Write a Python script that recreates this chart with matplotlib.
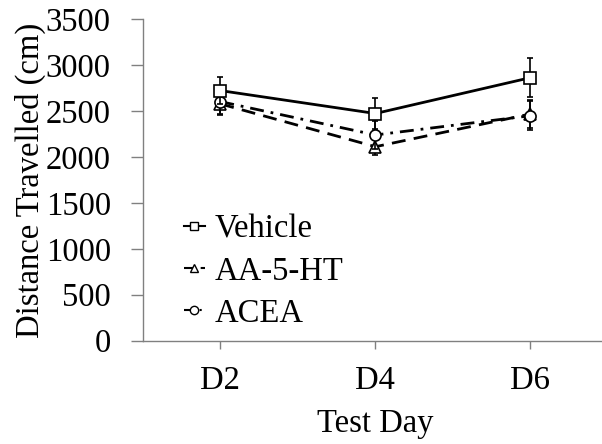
import matplotlib
matplotlib.use("Agg")
import matplotlib.pyplot as plt
from matplotlib.lines import Line2D

plt.rcParams['font.family'] = ['Liberation Serif', 'DejaVu Serif']

days = ["D2", "D4", "D6"]
vehicle = [2725, 2475, 2866]
vehicle_err = [150, 165, 210]
aa5ht = [2580, 2113, 2470]
aa5ht_err = [120, 85, 150]
acea = [2605, 2241, 2451]
acea_err = [135, 150, 155]

FS = 23.5
fig = plt.figure(figsize=(6.02, 4.44), dpi=100)
ax = fig.add_axes([142.8 / 602, 1 - 340.5 / 444, (608 - 142.8) / 602, (340.5 - 19.5) / 444])

x = [0.5, 1.5, 2.5]
styles = {
    'Vehicle': dict(marker='s', ls='-'),
    'AA-5-HT': dict(marker='^', ls=(0, (5, 3))),
    'ACEA': dict(marker='o', ls=(0, (5, 2.5, 1, 2.5))),
}
common = dict(color='black', lw=2, ms=8, mfc='white', mec='black', mew=1.2,
              ecolor='black', elinewidth=1.2, capsize=2.5, capthick=1.2)
ax.errorbar(x, vehicle, yerr=vehicle_err, zorder=5, **styles['Vehicle'], **common)
ax.errorbar(x, aa5ht, yerr=aa5ht_err, zorder=3, **styles['AA-5-HT'], **common)
ax.errorbar(x, acea, yerr=acea_err, zorder=4, **styles['ACEA'], **common)

ax.set_xlim(0, 3)
ax.set_ylim(0, 3500)
ax.set_yticks(range(0, 3501, 500))
ax.set_xticks(x)
ax.set_xticklabels(days)

for s in ['top', 'right']:
    ax.spines[s].set_visible(False)
for s in ['left', 'bottom']:
    ax.spines[s].set_color('#808080')
    ax.spines[s].set_linewidth(1)
ax.tick_params(axis='y', direction='out', length=9, width=1, color='#808080', labelsize=FS, pad=14)
ax.tick_params(axis='x', direction='out', length=6, width=1, color='#808080', labelsize=FS, pad=12)

ax.set_ylabel('Distance Travelled (cm)', fontsize=FS, labelpad=0)
ax.set_xlabel('Test Day', fontsize=FS, labelpad=9)

handles = [Line2D([], [], color='black', lw=1.5, ms=6, mfc='white', mec='black', mew=1.0,
                  **styles[k]) for k in styles]
leg = ax.legend(handles, list(styles.keys()), loc='upper left', bbox_to_anchor=(0.06, 0.435),
                frameon=False, fontsize=FS, handlelength=0.65, handletextpad=0.3,
                labelspacing=0.36, borderaxespad=0)

fig.savefig('out.png', dpi=100)
